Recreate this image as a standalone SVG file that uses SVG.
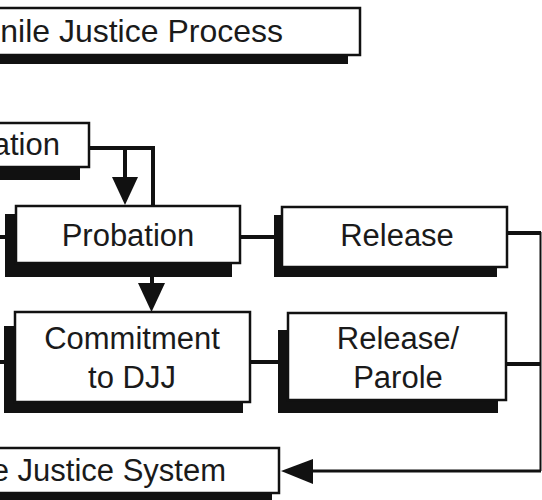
<svg xmlns="http://www.w3.org/2000/svg" width="542" height="500" viewBox="0 0 542 500">
<style>
.box{fill:#fff;stroke:#111;stroke-width:2.5}
.sh{fill:#111}
.t{font-family:"Liberation Sans",Arial,sans-serif;font-size:31px;fill:#1a1a1a}
.c{text-anchor:middle}
.e{text-anchor:end}
.ln{fill:none;stroke:#111;stroke-width:4}
.thin{fill:none;stroke:#111;stroke-width:2}
.ah{fill:#111}
</style>
<rect width="542" height="500" fill="#fff"/>
<g id="connectors">
<path class="ln" d="M89 148 H153 V206"/>
<path class="ln" d="M125 148 V180"/>
<polygon class="ah" points="112,177 138,177 125,205"/>
<path class="ln" d="M152 276 V286"/>
<polygon class="ah" points="138,283 165,283 151.5,312"/>
<path class="ln" d="M0 237 H6"/>
<path class="ln" d="M0 362 H5"/>
<path class="ln" d="M240 237 H275"/>
<path class="ln" d="M250 362 H279"/>
<path class="ln" d="M507 233 H541"/>
<path class="ln" d="M506 364 H541"/>
<path class="thin" d="M540.5 232 V471"/>
<path class="ln" d="M541 471 H310" style="stroke-width:3"/>
<polygon class="ah" points="313,459 313,484 281,471"/>
</g>
<g id="title">
<rect class="sh" x="-20" y="17" width="368" height="47"/>
<rect class="box" x="-10" y="8" width="370" height="47"/>
<text class="t e" x="283" y="42" style="font-size:32px">nile Justice Process</text>
</g>
<g id="intake">
<rect class="sh" x="-20" y="133" width="100" height="47"/>
<rect class="box" x="-10" y="123" width="99" height="44"/>
<text class="t e" x="60" y="155">ation</text>
</g>
<g id="probation">
<rect class="sh" x="5" y="214" width="227" height="63"/>
<rect class="box" x="16" y="206" width="224" height="57"/>
<text class="t c" x="128" y="246">Probation</text>
</g>
<g id="release">
<rect class="sh" x="274" y="215" width="223" height="62"/>
<rect class="box" x="282" y="207" width="225" height="60"/>
<text class="t c" x="397" y="246">Release</text>
</g>
<g id="commitment">
<rect class="sh" x="4" y="326" width="239" height="87"/>
<rect class="box" x="15" y="312" width="235" height="90"/>
<text class="t c" x="132" y="349">Commitment</text>
<text class="t c" x="132" y="388">to DJJ</text>
</g>
<g id="release-parole">
<rect class="sh" x="278" y="330" width="220" height="83"/>
<rect class="box" x="288" y="313" width="218" height="87"/>
<text class="t c" x="398" y="349">Release/</text>
<text class="t c" x="398" y="388">Parole</text>
</g>
<g id="system">
<rect class="sh" x="-20" y="458" width="292" height="50"/>
<rect class="box" x="-10" y="448" width="289" height="45"/>
<text class="t e" x="226" y="481">e Justice System</text>
</g>
</svg>
